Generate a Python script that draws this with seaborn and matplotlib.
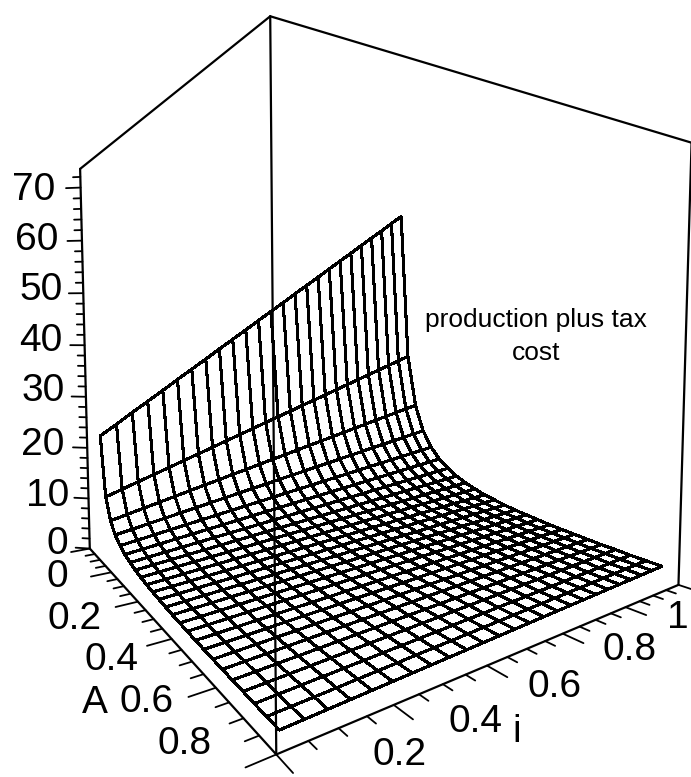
import numpy as np
import matplotlib
matplotlib.use("Agg")
import matplotlib.pyplot as plt
import seaborn as sns

# Surface grid (25 x 25 mesh)
A_grid = [0.05, 0.088, 0.127, 0.165, 0.204, 0.242, 0.281, 0.319, 0.357, 0.396, 0.434, 0.473, 0.511,
          0.549, 0.588, 0.626, 0.665, 0.703, 0.742, 0.78, 0.818, 0.857, 0.895, 0.934, 0.972]
i_grid = [0.02, 0.06, 0.10, 0.14, 0.18, 0.22, 0.26, 0.30, 0.34, 0.38, 0.42, 0.46, 0.50,
          0.54, 0.58, 0.62, 0.66, 0.70, 0.74, 0.78, 0.82, 0.86, 0.90, 0.94, 0.98]
# cost along the far edge (i at its largest), one value per A row
cost_by_A = [71, 36, 24, 18, 14.4, 12, 10.3, 9.0, 8.0, 7.2, 6.5, 6.0, 5.5,
             5.1, 4.8, 4.5, 4.2, 4.0, 3.8, 3.6, 3.4, 3.3, 3.1, 3.0, 2.9]
# share of that cost at each i column
share_by_i = [0.32, 0.348, 0.377, 0.405, 0.433, 0.462, 0.49, 0.518, 0.547, 0.575, 0.603, 0.632, 0.66,
              0.688, 0.717, 0.745, 0.773, 0.802, 0.83, 0.858, 0.887, 0.915, 0.943, 0.972, 1.00]

z_ticks = [0, 10, 20, 30, 40, 50, 60, 70]
z_minor = [v for v in range(0, 74, 2)]
xy_ticks = [0, 0.2, 0.4, 0.6, 0.8, 1]
xy_minor = [0, 0.05, 0.1, 0.15, 0.2, 0.25, 0.3, 0.35, 0.4, 0.45, 0.5,
            0.55, 0.6, 0.65, 0.7, 0.75, 0.8, 0.85, 0.9, 0.95, 1]
z_top = 73.5

sns.set_theme(style="white", font="Liberation Sans")

W, H = 691, 777
fig = plt.figure(figsize=(W / 100, H / 100), dpi=100)
ax = fig.add_axes([-2 / W, 48 / H, 709 / W, 709 / H], projection="3d")
ax.set_box_aspect((0.645, 0.641, 0.615))
ax.set_proj_type("persp", focal_length=0.1736)
ax.view_init(elev=3.5, azim=-35.5)
ax.computed_zorder = False
ax.set_axis_off()
ax.set_xlim(0, 1)
ax.set_ylim(0, 1)
ax.set_zlim(0, z_top)

# ------------------------
# Surface
# ------------------------
AA, II = np.meshgrid(A_grid, i_grid, indexing="ij")
ZZ = np.outer(cost_by_A, share_by_i)
surf = ax.plot_surface(AA, II, ZZ, rstride=1, cstride=1, color="white", edgecolor="black",
                       linewidth=1.5, shade=False, antialiased=False, zorder=1)
surf.set_clip_on(False)

# ------------------------
# Frame
# ------------------------
line = dict(color="black", lw=1.6, zorder=3, clip_on=False)
ax.plot([0, 0], [0, 0], [0, z_top], **line)
ax.plot([1, 1], [0, 0], [0, z_top], **line)
ax.plot([1, 1], [1, 1], [0, z_top], **line)
ax.plot([0, 1], [0, 0], [z_top, z_top], **line)
ax.plot([1, 1], [0, 1], [z_top, z_top], **line)
ax.plot([0, 1], [0, 0], [0, 0], **line)
ax.plot([1, 1], [0, 1], [0, 0], **line)

# ------------------------
# Ticks
# ------------------------
tick = dict(color="black", lw=1.3, zorder=3, clip_on=False)
for v in z_minor:
    d = 0.028 if v in z_ticks else 0.014
    ax.plot([0, -d], [0, -d], [v, v], **tick)
for v in xy_minor:
    d = 0.045 if v in xy_ticks else 0.022
    ax.plot([v, v], [0, -d], [0, 0], **tick)
    ax.plot([1, 1 + d], [v, v], [0, 0], **tick)

# ------------------------
# Labels (pixel centres)
# ------------------------
def label(x, y, s, size=28):
    fig.text(x / W, 1 - y / H, s, fontsize=size, ha="center", va="center", color="black")

z_label_x = [57, 48, 43, 43, 41, 41, 37, 34]
z_label_y = [544, 496, 445, 391, 341, 290, 240, 190]
for x, y, v in zip(z_label_x, z_label_y, z_ticks):
    label(x, y, str(v))

A_label_x = [57, 75, 112, 147, 185]
A_label_y = [577, 619, 660, 702, 744]
for x, y, s in zip(A_label_x, A_label_y, ["0", "0.2", "0.4", "0.6", "0.8"]):
    label(x, y, s)
label(95, 703, "A")

i_label_x = [400, 475, 555, 630, 678]
i_label_y = [755, 722, 687, 650, 618]
for x, y, s in zip(i_label_x, i_label_y, ["0.2", "0.4", "0.6", "0.8", "1"]):
    label(x, y, s)
label(517, 732, "i")

label(536, 320, "production plus tax", size=19)
label(536, 353, "cost", size=19)

fig.savefig("out.png", dpi=100)
